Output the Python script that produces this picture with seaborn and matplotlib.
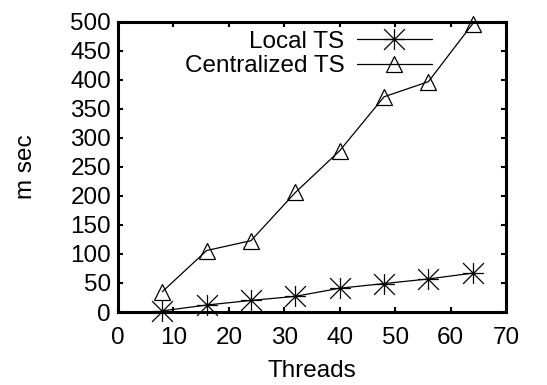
import matplotlib
matplotlib.use("Agg")
import matplotlib.pyplot as plt
from matplotlib.path import Path
import seaborn as sns
import pandas as pd

threads = [8, 16, 24, 32, 40, 48, 56, 64]
local_ts = [2, 12, 20, 27, 41, 49, 57, 67]
centralized_ts = [35, 106, 123, 206, 278, 371, 397, 497]

sns.set_style("ticks")
plt.rcParams["font.family"] = ["Liberation Sans", "DejaVu Sans"]
plt.rcParams["font.size"] = 17.5
plt.rcParams["text.color"] = "black"
plt.rcParams["axes.labelcolor"] = "black"

# plus-and-cross asterisk whose diagonals reach the corners of its square
star = Path(
    [(-1, 0), (1, 0), (0, -1), (0, 1), (-1, -1), (1, 1), (-1, 1), (1, -1)],
    [Path.MOVETO, Path.LINETO] * 4,
)

df = pd.DataFrame({
    "Threads": threads * 2,
    "m sec": local_ts + centralized_ts,
    "series": ["Local TS"] * len(threads) + ["Centralized TS"] * len(threads),
})

fig = plt.figure(figsize=(5.47, 3.85), dpi=100)
ax = fig.add_axes([0.2157, 0.1896, 0.7093, 0.7534])

sns.lineplot(data=df[df["series"] == "Local TS"], x="Threads", y="m sec",
             ax=ax, color="black", linewidth=0.9, marker=star,
             markersize=15, markeredgewidth=0.9, markeredgecolor="black",
             label="Local TS", clip_on=False, zorder=3)
sns.lineplot(data=df[df["series"] == "Centralized TS"], x="Threads", y="m sec",
             ax=ax, color="black", linewidth=0.9, marker="^",
             markersize=12, markerfacecolor="none", markeredgewidth=0.9,
             markeredgecolor="black", label="Centralized TS", clip_on=False,
             zorder=3)

ax.set_xlim(0, 70)
ax.set_ylim(0, 500)
ax.set_xticks(range(0, 71, 10))
ax.set_yticks(range(0, 501, 50))

for side in ax.spines.values():
    side.set_linewidth(2.2)
    side.set_color("black")
    side.set_visible(True)

ax.tick_params(axis="both", direction="in", length=3.5, width=1.5,
               top=True, right=True, labelsize=17.5, colors="black")
ax.tick_params(axis="x", pad=11)
ax.tick_params(axis="y", pad=5)

ax.set_xlabel("Threads", fontsize=17.5, labelpad=8)
ax.set_ylabel("m sec", fontsize=17.5, labelpad=24)

leg = ax.legend(loc="upper right", bbox_to_anchor=(0.809, 0.97),
                frameon=False, markerfirst=False, handlelength=3.1,
                handletextpad=0.5, labelspacing=0.1, borderpad=0,
                borderaxespad=0, fontsize=17.5, numpoints=1)

fig.savefig("out.png", dpi=100)
